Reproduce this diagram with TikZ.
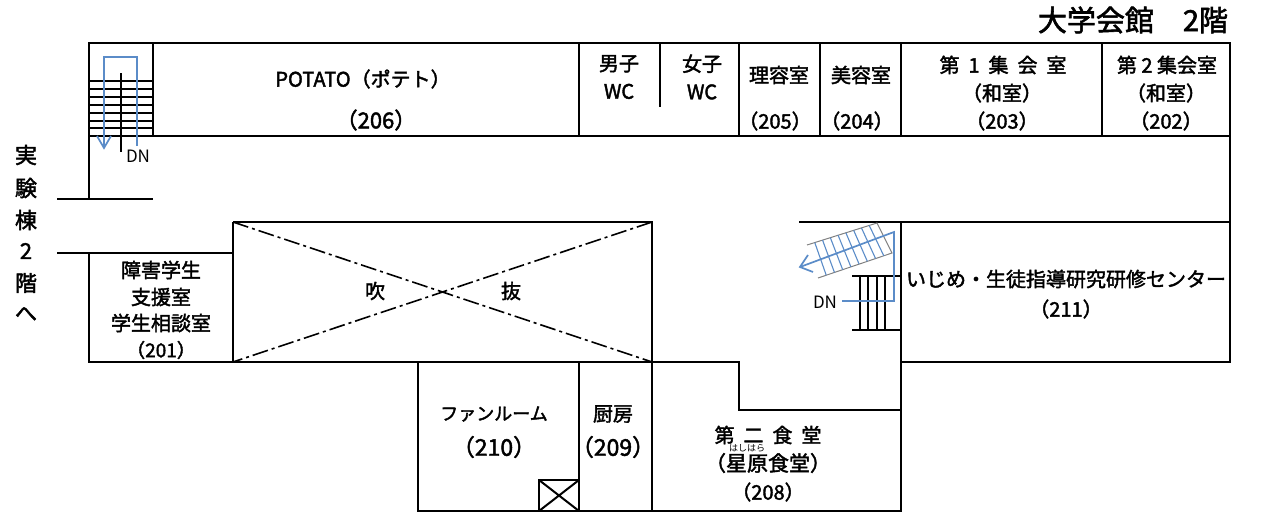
\documentclass[tikz,border=0pt]{standalone}
\usepackage{fontspec}
\setmainfont[FakeBold=2]{Noto Sans CJK JP}
\newfontfamily\plainfont{Noto Sans CJK JP}
\definecolor{flowblue}{RGB}{91,140,200}
\tikzset{
  wall/.style={draw=black,line width=2pt},
  tread/.style={draw=black,line width=1.6pt},
  void/.style={draw=black,line width=1.6pt,dash pattern=on 16pt off 4pt on 3pt off 4pt},
  flow/.style={draw=flowblue,line width=1.7pt},
  rail/.style={draw=flowblue,line width=1.1pt},
  label/.style={inner sep=0pt,align=center,font=\fontsize{20}{30}\selectfont},
  big/.style={inner sep=0pt,align=center,font=\fontsize{22}{28}\selectfont},
  small/.style={inner sep=0pt,align=center,font=\plainfont\fontsize{17}{22}\selectfont}
}
\begin{document}
\begin{tikzpicture}[x=1pt,y=-1pt]
\useasboundingbox (0,0) rectangle (1261,517);
% outer walls
\draw[wall] (89,199) -- (89,43) -- (1230,43) -- (1230,362) -- (901,362);
\draw[wall] (89,136) -- (1230,136);
\foreach \x in {153,579,739,820,901,1102} \draw[wall] (\x,43) -- (\x,136);
\draw[wall] (660,43) -- (660,107);
\draw[wall] (57,199) -- (153,199);
\draw[wall] (799,222) -- (1230,222);
\draw[wall] (901,222) -- (901,362);
\draw[wall] (57,253) -- (233,253);
\draw[wall] (89,253) -- (89,362) -- (739,362) -- (739,410) -- (901,410) -- (901,362);
\draw[wall] (233,222) -- (652,222) -- (652,511);
\draw[wall] (233,222) -- (233,362);
\draw[wall] (418,362) -- (418,511) -- (901,511) -- (901,410);
\draw[wall] (579,362) -- (579,511);
% void crossing
\draw[void] (233,222) -- (652,362);
\draw[void] (652,222) -- (233,362);
% shaft
\draw[wall] (539,480) rectangle (579,511);
\draw[wall] (539,480) -- (579,511) (579,480) -- (539,511);
% stairs upper left
\foreach \y in {81,89,97,105,113,121,128} \draw[tread] (89,\y) -- (153,\y);
\draw[tread] (121,73) -- (121,152);
\draw[flow] (137,146) -- (137,57) -- (104,57) -- (104,148);
\draw[flow] (97,136) -- (104,148) -- (111,136);
% stairs right
\draw[tread] (852,276) -- (901,276) (852,330) -- (901,330);
\foreach \x in {860,868,877,885} \draw[tread] (\x,276) -- (\x,330);
\draw[gray,line width=1pt] (807,245) -- (877,223) -- (892,253) -- (818,278);
\foreach \t in {1,...,8} {
  \draw[rail] ({807+\t*70/9},{245-\t*22/9}) -- ({818+\t*74/9},{278-\t*25/9});
}
\draw[flow] (842,301) -- (894,301) -- (894,232) -- (800,267);
\draw[flow] (808,255) -- (800,267) -- (813,272);
% labels
\node[inner sep=0pt,font=\fontsize{29}{32}\selectfont] (title) at (1133,20) {大学会館　2階};
\node[small] (dn1) at (138,156) {DN};
\node[small] (dn2) at (825,302) {DN};
\node[label] (potato) at (363,79) {POTATO（ポテト）};
\node[big] (n206) at (376,120) {（206）};
\node[label,font=\fontsize{20}{28}\selectfont] (men) at (619,77) {男子\\WC};
\node[label,font=\fontsize{20}{28}\selectfont] (women) at (702,77) {女子\\WC};
\node[label] (riyo) at (779,75) {理容室};
\node[label] (n205) at (775,121) {（205）};
\node[label] (biyo) at (861,75) {美容室};
\node[label] (n204) at (857,121) {（204）};
\node[label] (d1) at (1003,65) {第\ \ 1\ \ 集\ \ 会\ \ 室};
\node[label] (w1) at (1002,93) {（和室）};
\node[label] (n203) at (1002,121) {（203）};
\node[label] (d2) at (1167,65) {第 2 集会室};
\node[label] (w2) at (1166,93) {（和室）};
\node[label] (n202) at (1166,121) {（202）};
\node[big] (jk) at (26,155) {実};
\node[big] (ken) at (26,188) {験};
\node[big] (to) at (26,220) {棟};
\node[big] (two) at (26,251) {2};
\node[big] (kai) at (26,283) {階};
\node[big] (he) at (26,314) {へ};
\node[label] (shogai) at (161,270) {障害学生};
\node[label] (shien) at (161,297) {支援室};
\node[label] (sodan) at (161,323) {学生相談室};
\node[label,font=\fontsize{19}{24}\selectfont] (n201) at (161,350) {（201）};
\node[label] (fuki) at (375,291) {吹};
\node[label] (nuki) at (511,291) {抜};
\node[label] (ijime) at (1066,279) {いじめ・生徒指導研究研修センター};
\node[label] (n211) at (1066,309) {（211）};
\node[label,font=\fontsize{18}{24}\selectfont] (fan) at (494,414) {ファンルーム};
\node[big,font=\fontsize{23}{26}\selectfont] (n210) at (494,447) {（210）};
\node[label] (chu) at (613,414) {厨房};
\node[big,font=\fontsize{23}{26}\selectfont] (n209) at (613,447) {（209）};
\node[label] (dai2) at (768,435) {第\ \ 二\ \ 食\ \ 堂};
\node[inner sep=0pt,font=\plainfont\fontsize{9}{10}\selectfont] (ruby) at (747,448) {はしはら};
\node[label,font=\fontsize{21}{26}\selectfont] (hoshi) at (768,463) {（星原食堂）};
\node[label] (n208) at (768,492) {（208）};
\end{tikzpicture}
\end{document}
